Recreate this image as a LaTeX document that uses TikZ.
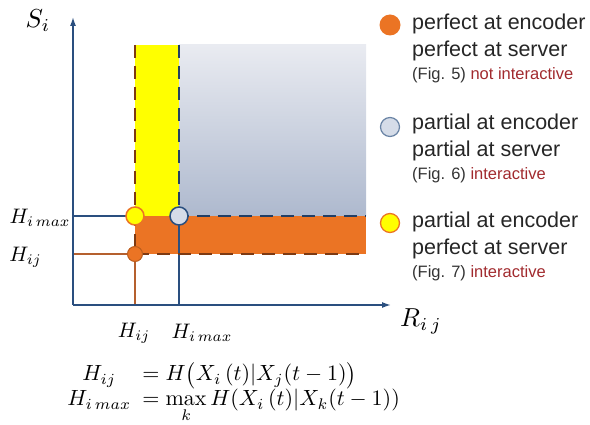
\documentclass[tikz,border=0pt]{standalone}
\usepackage{fontspec}
\setsansfont{Liberation Sans}
\usetikzlibrary{arrows.meta}
\definecolor{axisblue}{HTML}{2A4F7F}
\definecolor{orng}{HTML}{EB7424}
\definecolor{brwn}{HTML}{7E3A12}
\definecolor{ylw}{HTML}{FFFF00}
\definecolor{gtop}{HTML}{E9EBF1}
\definecolor{gbot}{HTML}{AEB9CE}
\definecolor{gcirc}{HTML}{D5DCE8}
\definecolor{redtxt}{HTML}{A12A2E}
\definecolor{brline}{HTML}{B5602E}
\tikzset{
  axis/.style={draw=axisblue, line width=1.5pt, -{Latex[length=9pt,width=6pt]}},
  bluethin/.style={draw=axisblue, line width=1.3pt},
  brownthin/.style={draw=brline, line width=1.3pt},
  bdash/.style={draw=brwn, line width=2.5pt, dash pattern=on 13pt off 8pt},
  udash/.style={draw=axisblue!80!black, line width=2.5pt, dash pattern=on 13pt off 8pt},
  legtxt/.style={font=\sffamily\fontsize{21.5}{24}\selectfont, text=black!85, anchor=west, inner sep=0pt},
  legsmall/.style={font=\sffamily\fontsize{16.5}{18}\selectfont, text=black!80, anchor=west, inner sep=0pt},
  mlbl/.style={font=\normalsize, scale=2.1, inner sep=0pt},
  mform/.style={font=\normalsize, scale=2.2, inner sep=0pt},
  mbig/.style={font=\normalsize, scale=2.6, inner sep=0pt},
}
\begin{document}
\begin{tikzpicture}[x=1pt,y=-1pt]
\useasboundingbox (0,0) rectangle (590,425);
% regions
\fill[orng] (135,216) rectangle (366,254);
\fill[ylw] (135,45) rectangle (179,216);
\shade[top color=gtop, bottom color=gbot] (179,45) rectangle (366,216);
% guide lines
\coordinate (ya) at (73,216);
\coordinate (yb) at (73,254);
\coordinate (xa) at (135,305);
\coordinate (xb) at (179,305);
\coordinate (pY) at (135,216);
\coordinate (pG) at (179,216);
\coordinate (pO) at (135,254);
\draw[bluethin] (ya) -- (pY);
\draw[brownthin] (yb) -- (pO);
\draw[brownthin] (pO) -- (xa);
\draw[bluethin] (pG) -- (xb);
% dashed borders
\coordinate (bt) at (135,45);
\coordinate (be) at (366,254);
\coordinate (ut) at (179,45);
\coordinate (ue) at (366,216);
\draw[bdash] (bt) -- (pO) -- (be);
\draw[udash] (ut) -- (pG) -- (ue);
% axes
\coordinate (o) at (73,305);
\coordinate (ytip) at (73,17);
\coordinate (xtip) at (391,305);
\draw[axis] (o) -- (ytip);
\draw[axis] (o) -- (xtip);
% points
\node[circle, draw=orng!80!black, line width=1pt, fill=orng, minimum size=15pt, inner sep=0pt] (cO) at (pO) {};
\node[circle, draw=orng, line width=1.5pt, fill=ylw, minimum size=18pt, inner sep=0pt] (cY) at (pY) {};
\node[circle, draw=axisblue, line width=1.5pt, fill=gcirc, minimum size=18pt, inner sep=0pt] (cG) at (pG) {};
% axis labels
\node[mbig] (si) at (38,21) {$S_i$};
\node[mbig] (rij) at (421,321) {$R_{i\,j}$};
\node[mlbl, anchor=east] (lhm) at (71,218) {$H_{i\,max}$};
\node[mlbl, anchor=west] (lhij) at (9,257) {$H_{ij}$};
\node[mlbl] (bhij) at (134,333) {$H_{ij}$};
\node[mlbl] (bhm) at (202,333) {$H_{i\,max}$};
% formulas
\node[mform, anchor=base west] (f1l) at (82,381) {$H_{ij}$};
\node[mform, anchor=base west] (f1r) at (142,381) {$=H\bigl(X_i\,(t)|X_j(t-1)\bigr)$};
\node[mform, anchor=base west] (f2l) at (67,406) {$H_{i\,max}$};
\node[mform, anchor=base west] (f2r) at (142,406) {$=\max\limits_k H(X_i\,(t)|X_k(t-1))$};
% legend
\node[circle, fill=orng, minimum size=21pt, inner sep=0pt] (l1) at (390,25) {};
\node[circle, draw=axisblue!70, line width=1.2pt, fill=gcirc, minimum size=19pt, inner sep=0pt] (l2) at (390,127) {};
\node[circle, draw=orng, line width=1.3pt, fill=ylw, minimum size=19pt, inner sep=0pt] (l3) at (390,223) {};
\node[legtxt] (t1a) at (412,24) {perfect at encoder};
\node[legtxt] (t1b) at (412,51) {perfect at server};
\node[legsmall] (t1c) at (412,75) {(Fig. 5) \textcolor{redtxt}{not interactive}};
\node[legtxt] (t2a) at (412,124) {partial at encoder};
\node[legtxt] (t2b) at (412,151) {partial at server};
\node[legsmall] (t2c) at (412,175) {(Fig. 6) \textcolor{redtxt}{interactive}};
\node[legtxt] (t3a) at (412,222) {partial at encoder};
\node[legtxt] (t3b) at (412,249) {perfect at server};
\node[legsmall] (t3c) at (412,273) {(Fig. 7) \textcolor{redtxt}{interactive}};
\end{tikzpicture}
\end{document}
